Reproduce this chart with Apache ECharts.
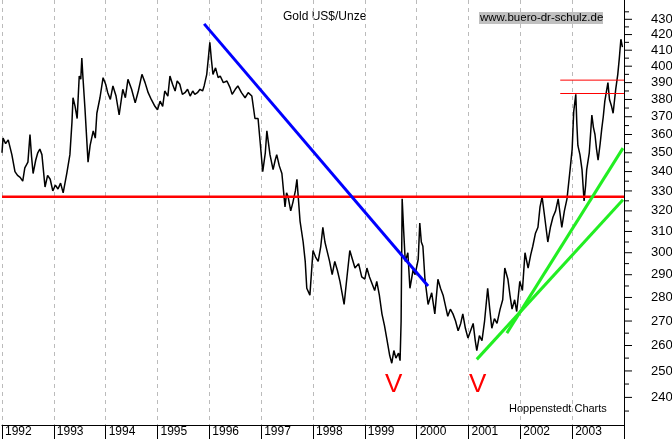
<!DOCTYPE html>
<html><head><meta charset="utf-8">
<script src="https://cdn.jsdelivr.net/npm/echarts@6/dist/echarts.min.js"></script>
<style>html,body{margin:0;padding:0;background:#fff}#c{width:672px;height:439px}</style>
</head><body><div id="c"></div>
<script>
const years = [1992,1993,1994,1995,1996,1997,1998,1999,2000,2001,2002,2003];
const yTicks = [240,250,260,270,280,290,300,310,320,330,340,350,360,370,380,390,400,410,420,430];
const yMinor = [235,245,255,265,275,285,295,305,315,325,335,345,355,365,375,385,395,405,415,425,435];
const gold = [
[1992.00,350],[1992.02,358],[1992.07,355],[1992.12,357],[1992.19,349],[1992.25,340],[1992.30,338],[1992.35,337],[1992.40,335],[1992.44,342],[1992.50,345],[1992.54,360],[1992.57,348],[1992.60,339],[1992.65,346],[1992.69,350],[1992.73,352],[1992.77,349],[1992.83,332],[1992.88,338],[1992.93,336],[1992.98,330],
[1993.03,333],[1993.08,331],[1993.13,334],[1993.18,329],[1993.25,339],[1993.31,349],[1993.35,367],[1993.37,381],[1993.41,376],[1993.45,369],[1993.49,394],[1993.52,392],[1993.54,405],[1993.56,394],[1993.60,375],[1993.66,345],[1993.70,354],[1993.76,362],[1993.80,358],[1993.83,372],[1993.89,381],[1993.95,393],
[1994.00,389],[1994.04,384],[1994.09,380],[1994.14,388],[1994.20,382],[1994.26,371],[1994.33,386],[1994.38,381],[1994.43,392],[1994.50,386],[1994.57,378],[1994.63,385],[1994.70,395],[1994.76,390],[1994.82,384],[1994.88,380],[1994.95,376],
[1995.00,374],[1995.05,379],[1995.10,376],[1995.14,385],[1995.20,382],[1995.24,394],[1995.29,389],[1995.34,385],[1995.38,391],[1995.43,389],[1995.48,383],[1995.53,384],[1995.58,386],[1995.63,382],[1995.68,385],[1995.72,383],[1995.77,384],[1995.82,386],[1995.87,385],[1995.90,388],[1995.95,395],[1995.99,408],
[1996.01,415],[1996.04,404],[1996.07,395],[1996.12,399],[1996.17,393],[1996.21,394],[1996.27,390],[1996.34,391],[1996.40,387],[1996.44,383],[1996.50,386],[1996.55,388],[1996.62,384],[1996.69,381],[1996.75,384],[1996.82,382],[1996.88,369],[1996.94,369],[1996.98,356],
[1997.03,340],[1997.08,350],[1997.11,362],[1997.17,349],[1997.23,341],[1997.27,346],[1997.30,349],[1997.35,343],[1997.40,339],[1997.46,322],[1997.49,329],[1997.52,327],[1997.57,320],[1997.61,324],[1997.66,330],[1997.69,336],[1997.75,315],[1997.81,305],[1997.85,296],[1997.88,284],[1997.94,281],
[1998.00,301],[1998.05,298],[1998.10,296],[1998.15,303],[1998.19,312],[1998.23,305],[1998.27,301],[1998.32,296],[1998.37,290],[1998.42,296],[1998.47,292],[1998.52,287],[1998.60,277],[1998.66,290],[1998.71,301],[1998.76,297],[1998.81,293],[1998.88,295],[1998.94,289],
[1999.00,288],[1999.04,293],[1999.09,289],[1999.14,286],[1999.19,283],[1999.23,287],[1999.28,281],[1999.33,273],[1999.38,268],[1999.43,262],[1999.48,256],[1999.52,253],[1999.56,258],[1999.60,255],[1999.65,257],[1999.68,254],[1999.70,270],[1999.72,326],[1999.75,310],[1999.78,296],[1999.83,300],[1999.87,284],[1999.93,292],[1999.97,290],
[2000.03,297],[2000.06,314],[2000.09,305],[2000.12,303],[2000.16,288],[2000.22,277],[2000.29,282],[2000.35,273],[2000.41,288],[2000.46,284],[2000.51,281],[2000.56,276],[2000.60,272],[2000.65,275],[2000.70,273],[2000.75,270],[2000.80,266],[2000.85,269],[2000.89,273],[2000.94,267],[2000.99,263],
[2001.04,266],[2001.09,269],[2001.13,262],[2001.16,258],[2001.21,264],[2001.26,262],[2001.31,270],[2001.37,284],[2001.41,275],[2001.45,267],[2001.50,271],[2001.55,269],[2001.61,275],[2001.66,279],[2001.70,293],[2001.76,288],[2001.80,281],[2001.84,275],[2001.89,279],[2001.93,274],[2001.99,287],
[2002.04,283],[2002.09,300],[2002.15,293],[2002.20,299],[2002.24,303],[2002.29,309],[2002.34,312],[2002.38,322],[2002.42,327],[2002.47,317],[2002.53,305],[2002.58,312],[2002.63,317],[2002.68,320],[2002.73,326],[2002.80,312],[2002.85,320],[2002.90,326],[2002.96,341],
[2003.00,352],[2003.03,373],[2003.07,383],[2003.09,366],[2003.11,354],[2003.15,349],[2003.19,341],[2003.23,325],[2003.26,333],[2003.28,341],[2003.33,350],[2003.38,371],[2003.41,364],[2003.44,360],[2003.47,352],[2003.50,346],[2003.54,355],[2003.57,363],[2003.60,370],[2003.63,379],[2003.69,390],[2003.72,380],[2003.76,376],[2003.79,372],[2003.84,386],[2003.88,395],[2003.91,405],[2003.94,417],[2003.97,412]
];
const redLevel = [[1992,327],[2004,327]];
const redThin1 = [[2002.77,391.5],[2004,391.5]];
const redThin2 = [[2002.77,383.5],[2004,383.5]];
const blueTrend = [[1995.90,427],[2000.22,285]];
const green1 = [[2001.16,254.5],[2003.98,325.5]];
const green2 = [[2001.74,265],[2003.98,352.5]];

const FONT = '"Liberation Sans", Arial, sans-serif';
function ln(data,color,width){return {type:'line',data:data,symbol:'none',silent:true,lineStyle:{color:color,width:width},z:3};}
const chart = echarts.init(document.getElementById('c'));
chart.setOption({
  animation:false,
  grid:{left:2,right:48,top:0,bottom:14},
  xAxis:{type:'value',min:1992,max:2004,interval:1,
    axisLine:{show:true,lineStyle:{color:'#000',width:1}},
    axisTick:{show:true,length:14,lineStyle:{color:'#000'}},
    axisLabel:{show:false},
    splitLine:{show:true,lineStyle:{color:'#bbb',type:[4,4]}}},
  yAxis:{type:'log',position:'right',min:230,max:443,
    axisLine:{show:true,lineStyle:{color:'#000'}},axisTick:{show:false},axisLabel:{show:false},splitLine:{show:false}},
  series:[
    {type:'custom',silent:true,clip:false,data:years.map(y=>[y]),renderItem:function(p,api){
      const c=api.coord([api.value(0),230]);
      return {type:'text',x:c[0]+3,y:c[1]+7,style:{text:String(api.value(0)),fill:'#000',font:'12px '+FONT,textVerticalAlign:'middle'}};
    }},
    {type:'custom',silent:true,clip:false,data:yTicks.map(v=>[2004,v]),renderItem:function(p,api){
      const c=api.coord([2004,api.value(1)]);
      return {type:'group',children:[
        {type:'line',shape:{x1:c[0],y1:c[1],x2:c[0]+8,y2:c[1]},style:{stroke:'#000',lineWidth:1}},
        {type:'text',x:c[0]+27,y:c[1],style:{text:String(api.value(1)),fill:'#000',font:'13px '+FONT,textVerticalAlign:'middle'}}]};
    }},
    {type:'custom',silent:true,clip:false,data:yMinor.map(v=>[2004,v]),renderItem:function(p,api){
      const c=api.coord([2004,api.value(1)]);
      return {type:'line',shape:{x1:c[0],y1:c[1],x2:c[0]+5,y2:c[1]},style:{stroke:'#000',lineWidth:1}};
    }},
    ln(gold,'#000',1.5),
    ln(redLevel,'#ff0000',2.5),
    ln(redThin1,'#ff0000',1),
    ln(redThin2,'#ff0000',1),
    ln(blueTrend,'#0000ff',3),
    ln(green1,'#22ee22',3),
    ln(green2,'#22ee22',3)
  ],
  graphic:[
    {type:'text',left:283,top:11,style:{text:'Gold US$/Unze',font:'12px '+FONT,fill:'#000'}},
    {type:'rect',shape:{x:479,y:12,width:124,height:12},style:{fill:'#c0c0c0'}},
    {type:'text',left:480,top:12,style:{text:'www.buero-dr-schulz.de',font:'11.5px '+FONT,fill:'#000'}},
    {type:'text',left:509,top:403,style:{text:'Hoppenstedt Charts',font:'11px '+FONT,fill:'#000'}},
    {type:'text',left:385,top:372,style:{text:'V',font:'26px '+FONT,fill:'#ff0000'}},
    {type:'text',left:469,top:372,style:{text:'V',font:'26px '+FONT,fill:'#ff0000'}}
  ]
});
</script></body></html>
